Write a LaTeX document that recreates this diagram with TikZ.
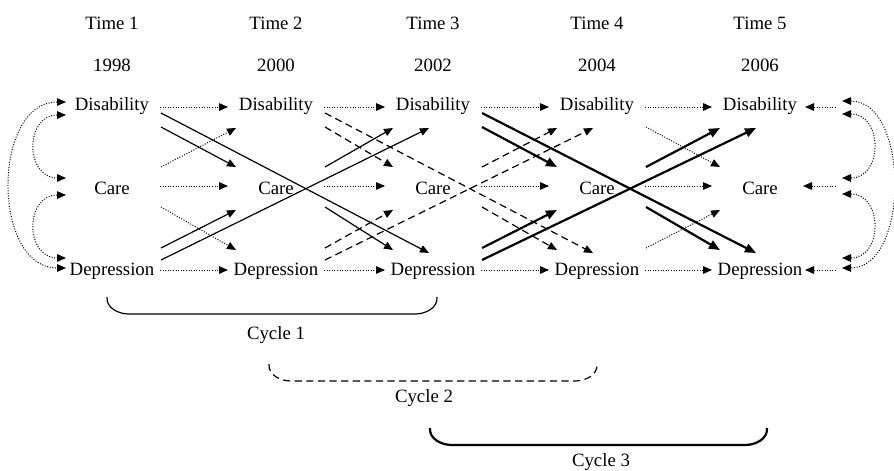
\documentclass[tikz,border=0pt]{standalone}
\usepackage{fontspec}
\setmainfont{Liberation Serif}
\usetikzlibrary{arrows.meta}

\tikzset{
  lbl/.style={font=\fontsize{9.4}{11}\selectfont, inner sep=1pt},
  tip/.style={-{Triangle[length=4.5pt,width=3.8pt]}},
  tips/.style={{Triangle[length=4.5pt,width=3.8pt]}-{Triangle[length=4.5pt,width=3.8pt]}},
  dots/.style={line width=0.5pt, dash pattern=on 0.5pt off 0.8pt},
  lag/.style={tip, dots},
  lagboth/.style={tips, dots},
  cycA/.style={tip, line width=0.6pt},
  cycB/.style={tip, line width=0.6pt, dash pattern=on 3.6pt off 2.2pt},
  cycC/.style={-{Triangle[length=5.5pt,width=4.5pt]}, line width=1.1pt},
}

\begin{document}
\begin{tikzpicture}[x=0.5pt,y=-0.5pt]
\useasboundingbox (0,0) rectangle (894,471);

% waves and measures
\foreach \i/\x/\yr in {1/112/1998,2/276/2000,3/433/2002,4/597/2004,5/760/2006}{
  \node[lbl] (time\i) at (\x,23) {Time \i};
  \node[lbl] (year\i) at (\x,65) {\yr};
  \node[lbl] (dis\i) at (\x,106) {Disability};
  \node[lbl] (care\i) at (\x,188) {Care};
  \node[lbl] (dep\i) at (\x,271) {Depression};
  % ports
  \coordinate (dis\i-o) at (\x+48,107);
  \coordinate (dis\i-i) at (\x-48,107);
  \coordinate (dis\i-e) at (\x+45,107);
  \coordinate (dis\i-ol) at (\x+49,113);
  \coordinate (dis\i-os) at (\x+49,127);
  \coordinate (dis\i-is) at (\x-40,128);
  \coordinate (dis\i-il) at (\x-4,128);
  \coordinate (care\i-o) at (\x+48,186);
  \coordinate (care\i-i) at (\x-48,186);
  \coordinate (care\i-e) at (\x+43,186);
  \coordinate (care\i-ou) at (\x+49,167);
  \coordinate (care\i-od) at (\x+49,207);
  \coordinate (care\i-ia) at (\x-40,167);
  \coordinate (care\i-ib) at (\x-40,210);
  \coordinate (dep\i-o) at (\x+48,270);
  \coordinate (dep\i-i) at (\x-48,270);
  \coordinate (dep\i-e) at (\x+45,270);
  \coordinate (dep\i-ol) at (\x+49,260);
  \coordinate (dep\i-os) at (\x+49,248);
  \coordinate (dep\i-is) at (\x-40,250);
  \coordinate (dep\i-il) at (\x-4,253);
}

% stability paths
\foreach \i/\j in {1/2,2/3,3/4,4/5}
  \foreach \r in {dis,care,dep}
    \draw[lag] (\r\i-o) -- (\r\j-i);

% care at the edges
\draw[lag] (care1-ou) -- (dis2-is);
\draw[lag] (care1-od) -- (dep2-is);
\draw[lag] (dis4-os) -- (care5-ia);
\draw[lag] (dep4-os) -- (care5-ib);

% the three cycles
\foreach \a/\b/\c/\s in {1/2/3/cycA,2/3/4/cycB,3/4/5/cycC}{
  \draw[\s] (dis\a-os) -- (care\b-ia);
  \draw[\s] (dis\a-ol) -- (dep\c-il);
  \draw[\s] (dep\a-os) -- (care\b-ib);
  \draw[\s] (dep\a-ol) -- (dis\c-il);
  \draw[\s] (care\b-ou) -- (dis\c-is);
  \draw[\s] (care\b-od) -- (dep\c-is);
}

% correlations at time 1
\coordinate (ldis-a) at (66,102);
\coordinate (ldis-b) at (66,115);
\coordinate (lcare-a) at (66,178);
\coordinate (lcare-b) at (66,195);
\coordinate (ldep-a) at (66,258);
\coordinate (ldep-b) at (66,268);
\draw[lagboth] (ldis-a) to[out=180,in=180,looseness=1.15] (ldep-b);
\draw[lagboth] (ldis-b) to[out=180,in=180,looseness=1.68] (lcare-a);
\draw[lagboth] (lcare-b) to[out=180,in=180,looseness=1.68] (ldep-a);

% correlated errors at time 5
\coordinate (rdis) at (836,107);
\coordinate (rcare) at (836,186);
\coordinate (rdep) at (836,270);
\draw[lag] (rdis) -- (dis5-e);
\draw[lag] (rcare) -- (care5-e);
\draw[lag] (rdep) -- (dep5-e);
\coordinate (rdis-a) at (842,101);
\coordinate (rdis-b) at (842,114);
\coordinate (rcare-a) at (842,178);
\coordinate (rcare-b) at (842,194);
\coordinate (rdep-a) at (842,258);
\coordinate (rdep-b) at (842,268);
\draw[lagboth] (rdis-a) to[out=0,in=0,looseness=1.04] (rdep-b);
\draw[lagboth] (rdis-b) to[out=0,in=0,looseness=1.65] (rcare-a);
\draw[lagboth] (rcare-b) to[out=0,in=0,looseness=1.65] (rdep-a);

% cycle brackets
\draw[line width=0.6pt] (107,297) to[out=-95,in=180] (129,314) -- (415,314) to[out=0,in=-85] (437,297);
\node[lbl] (cycle1) at (276,335) {Cycle 1};
\draw[line width=0.6pt, dash pattern=on 3.6pt off 2.2pt] (269,364) to[out=-95,in=180] (291,381) -- (575,381) to[out=0,in=-85] (597,364);
\node[lbl] (cycle2) at (424,398) {Cycle 2};
\draw[line width=1.1pt] (430,428) to[out=-95,in=180] (452,445) -- (745,445) to[out=0,in=-85] (767,428);
\node[lbl] (cycle3) at (601,462) {Cycle 3};
\end{tikzpicture}
\end{document}
